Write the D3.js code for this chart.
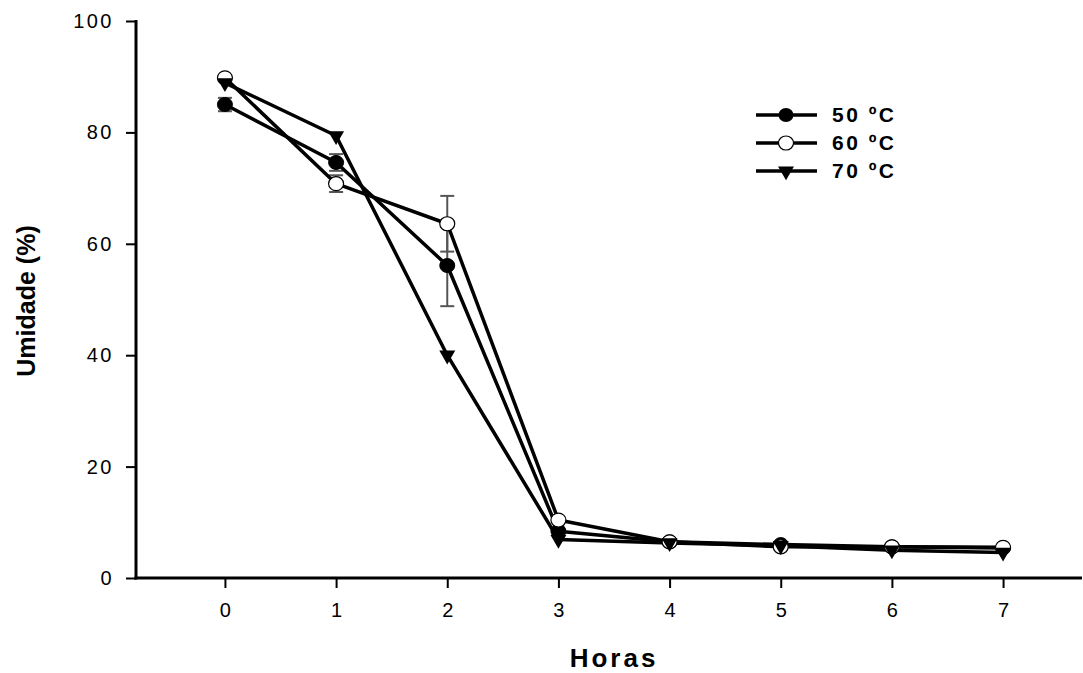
<!DOCTYPE html>
<html><head><meta charset="utf-8">
<script src="https://cdn.jsdelivr.net/npm/d3@7"></script>
<style>body{margin:0;background:#fff}svg{display:block}text{font-family:"Liberation Sans",Arial,sans-serif}</style>
</head><body><svg id="c" width="1083" height="673"></svg>
<script>
const hours = [0,1,2,3,4,5,6,7];
const s50 = [85.0, 74.6, 56.1, 8.4, 6.5, 6.0, 5.6, 5.4];
const e50 = [1.2, 1.5, 7.3, 0, 0, 0, 0, 0];
const s60 = [89.8, 70.8, 63.6, 10.4, 6.5, 5.6, 5.6, 5.5];
const e60 = [0, 1.5, 5.0, 0, 0, 0, 0, 0];
const s70 = [88.9, 79.4, 40.0, 6.9, 6.3, 5.8, 5.0, 4.6];
const yTicks = [0,20,40,60,80,100];
const seriesNames = ["50 ºC","60 ºC","70 ºC"];

const svg = d3.select("#c");
const x = d3.scaleLinear().domain([-0.8, 7.71]).range([136, 1082]);
const y = d3.scaleLinear().domain([0, 100]).range([578, 21]);

// axes
const yAx = svg.append("g").attr("transform","translate(136,0)")
  .call(d3.axisLeft(y).tickValues(yTicks).tickSize(10).tickPadding(12));
const xAx = svg.append("g").attr("transform","translate(0,578)")
  .call(d3.axisBottom(x).tickValues(hours).tickSize(10).tickPadding(15));
[yAx,xAx].forEach(g=>{
  g.select(".domain").remove();
  g.selectAll(".tick line").attr("stroke","#000").attr("stroke-width",2);
  g.selectAll(".tick text").attr("fill","#000").style("font-size","20px").style("letter-spacing","2.5px");
});
xAx.selectAll(".tick text").attr("dx","1.25px");
svg.append("line").attr("x1",136).attr("x2",136).attr("y1",20).attr("y2",579.5).attr("stroke","#000").attr("stroke-width",3);
svg.append("line").attr("x1",134.5).attr("x2",1082).attr("y1",578).attr("y2",578).attr("stroke","#000").attr("stroke-width",3);

svg.append("text").attr("transform","translate(35,301) rotate(-90)").attr("text-anchor","middle")
  .style("font-size","25px").style("font-weight","bold").text("Umidade (%)");
svg.append("text").attr("x",614).attr("y",667).attr("text-anchor","middle")
  .style("font-size","26px").style("font-weight","bold").style("letter-spacing","3px").text("Horas");

const line = d3.line().x((d,i)=>x(hours[i])).y(d=>y(d));
const tri = d3.symbol().type(d3.symbolTriangle).size(110);

function errBars(vals, errs){
  const g = svg.append("g").attr("stroke","#555").attr("stroke-width",2);
  vals.forEach((v,i)=>{
    if(!errs[i]) return;
    const cx = x(hours[i]);
    g.append("line").attr("x1",cx).attr("x2",cx).attr("y1",y(v-errs[i])).attr("y2",y(v+errs[i]));
    [v-errs[i], v+errs[i]].forEach(t=>g.append("line").attr("x1",cx-7).attr("x2",cx+7).attr("y1",y(t)).attr("y2",y(t)));
  });
}
errBars(s50,e50); errBars(s60,e60);

[s50,s60,s70].forEach(s=>svg.append("path").attr("d",line(s)).attr("fill","none").attr("stroke","#000").attr("stroke-width",3.5).attr("stroke-linejoin","round"));

svg.append("g").selectAll("ellipse").data(s50).join("ellipse")
  .attr("cx",(d,i)=>x(hours[i])).attr("cy",d=>y(d)).attr("rx",7.5).attr("ry",7).attr("fill","#000").attr("stroke","#000").attr("stroke-width",1);
svg.append("g").selectAll("ellipse").data(s60).join("ellipse")
  .attr("cx",(d,i)=>x(hours[i])).attr("cy",d=>y(d)).attr("rx",7.5).attr("ry",7).attr("fill","#fff").attr("stroke","#000").attr("stroke-width",1.2);
svg.append("g").selectAll("path").data(s70).join("path")
  .attr("d",tri).attr("transform",(d,i)=>`translate(${x(hours[i])},${y(d)}) rotate(180)`).attr("fill","#000");

// legend
const lg = svg.append("g");
seriesNames.forEach((n,i)=>{
  const yy = 115 + i*28;
  lg.append("line").attr("x1",756).attr("x2",817).attr("y1",yy).attr("y2",yy).attr("stroke","#000").attr("stroke-width",3.5);
  if(i===0) lg.append("ellipse").attr("cx",786).attr("cy",yy).attr("rx",7.5).attr("ry",7).attr("fill","#000");
  if(i===1) lg.append("ellipse").attr("cx",786).attr("cy",yy).attr("rx",7.5).attr("ry",7).attr("fill","#fff").attr("stroke","#000").attr("stroke-width",1.2);
  if(i===2) lg.append("path").attr("d",tri).attr("transform",`translate(786,${yy}) rotate(180)`).attr("fill","#000");
  lg.append("text").attr("x",832).attr("y",yy+7).style("font-size","21px").style("font-weight","bold").style("letter-spacing","2.5px").text(n);
});
</script></body></html>
